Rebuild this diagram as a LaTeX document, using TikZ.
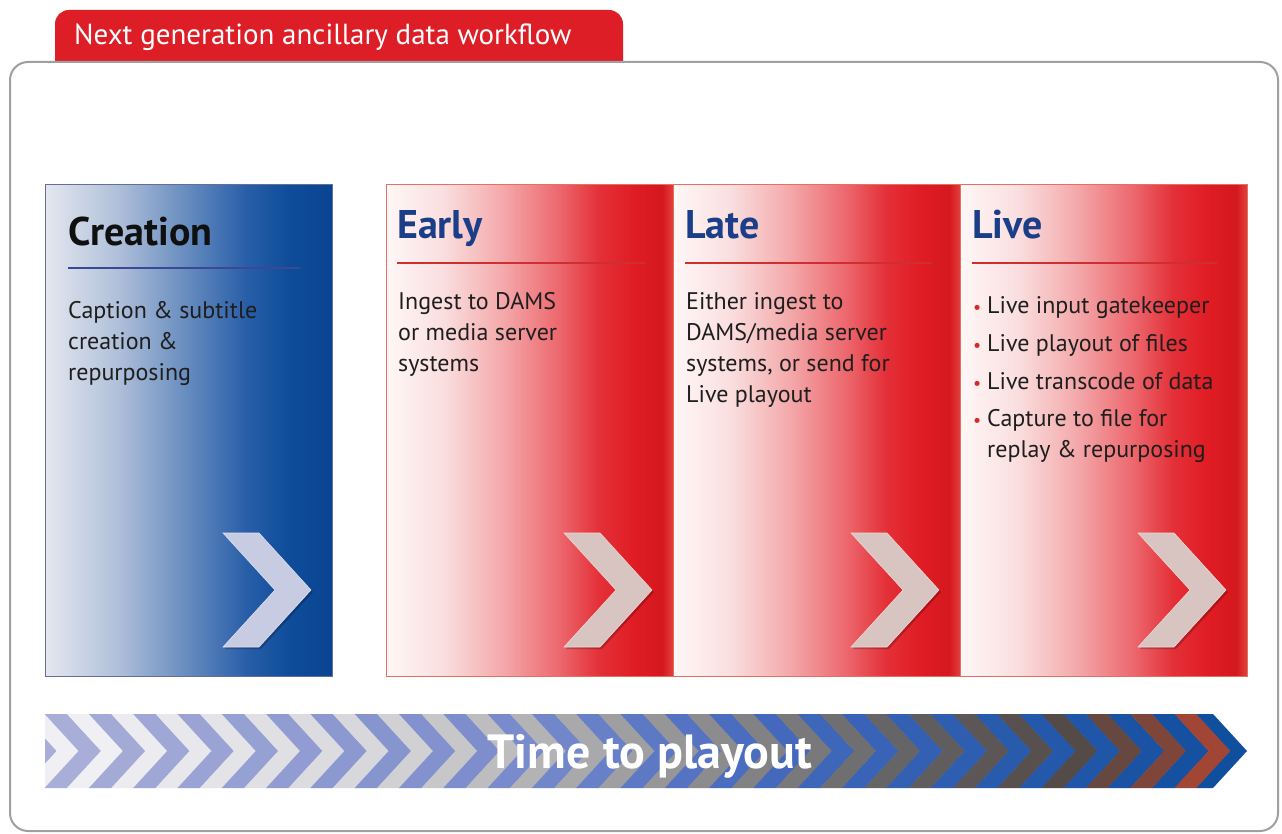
\documentclass[tikz,border=0pt]{standalone}
\usepackage{fontspec}
\setmainfont{PT Sans}

% palette
\definecolor{tabred}{RGB}{222,30,38}
\definecolor{framegray}{RGB}{160,160,160}
\definecolor{titleblue}{RGB}{26,62,136}
\definecolor{titleblack}{RGB}{16,16,16}
\definecolor{bodyblack}{RGB}{30,30,30}
\definecolor{bulletred}{RGB}{214,40,40}
\definecolor{rededge}{RGB}{228,112,98}
\definecolor{blueedge}{RGB}{104,108,152}
\definecolor{rulered}{RGB}{206,48,50}
\definecolor{ruleblue}{RGB}{58,72,150}
\definecolor{chevblue}{RGB}{200,204,226}
\definecolor{chevblueedge}{RGB}{222,224,238}
\definecolor{chevred}{RGB}{216,196,192}
\definecolor{chevrededge}{RGB}{238,216,212}

% red panel gradient stops
\definecolor{rpa}{RGB}{255,247,247}
\definecolor{rpb}{RGB}{250,222,222}
\definecolor{rpc}{RGB}{244,170,172}
\definecolor{rpd}{RGB}{236,104,110}
\definecolor{rpe}{RGB}{228,48,56}
\definecolor{rpf}{RGB}{224,28,36}
\definecolor{rpg}{RGB}{212,24,30}
\definecolor{rph}{RGB}{228,66,60}
% blue panel gradient stops
\definecolor{bpa}{RGB}{228,231,239}
\definecolor{bpb}{RGB}{176,192,218}
\definecolor{bpc}{RGB}{100,138,190}
\definecolor{bpd}{RGB}{40,94,168}
\definecolor{bpe}{RGB}{14,76,154}
\definecolor{bpf}{RGB}{10,68,144}

\pgfdeclarehorizontalshading{redpanel}{100bp}{color(0bp)=(rpa); color(25bp)=(rpa);
  color(35bp)=(rpb); color(45bp)=(rpc); color(55bp)=(rpd); color(62bp)=(rpe);
  color(68bp)=(rpf); color(73bp)=(rpg); color(75bp)=(rph); color(100bp)=(rph)}
\pgfdeclarehorizontalshading{bluepanel}{100bp}{color(0bp)=(bpa); color(25bp)=(bpa);
  color(37.5bp)=(bpb); color(50bp)=(bpc); color(60bp)=(bpd); color(67.5bp)=(bpe);
  color(75bp)=(bpf); color(100bp)=(bpf)}

\begin{document}
\begin{tikzpicture}[x=1pt,y=-1pt,
  declare function={clampseg(\pos,\lo,\hi)=max(0,min(1,(\pos-\lo)/(\hi-\lo)));},
  panelbox/.style={minimum width=287pt, minimum height=492pt, anchor=north west,
    inner sep=0pt, line width=1pt},
  redbox/.style={panelbox, shade, shading=redpanel, draw=rededge},
  bluebox/.style={panelbox, shade, shading=bluepanel, draw=blueedge},
  paneltitle/.style={font=\fontsize{40}{44}\selectfont\bfseries, anchor=base west,
    inner sep=0pt, text=titleblue},
  % multi-line blocks are placed by the baseline of their last line
  paneltext/.style={font=\fontsize{24}{31}\selectfont, align=left, anchor=base west,
    inner sep=0pt, text=bodyblack},
  titlerule/.style={line width=2pt, draw=rulered},
  chevpic/.pic={
    \fill[black, opacity=0.22] (2,2) -- (38,2) -- (90,59) -- (38,116) -- (2,116) -- (54,59) -- cycle;
    \path[pic actions] (0,0) -- (36,0) -- (88,57) -- (36,114) -- (0,114) -- (52,57) -- cycle;
  },
]
\useasboundingbox (0,0) rectangle (1282,834);
\fill[white] (0,0) rectangle (1282,834);

% heading tab and outer frame
\fill[tabred] (55,63) [rounded corners=14pt] -- (55,10) -- (623,10) [sharp corners] -- (623,63) -- cycle;
\node[anchor=base west, inner sep=0pt, text=white, font=\fontsize{29}{32}\selectfont]
  (heading) at (74,45) {Next generation ancillary data workflow};
\draw[framegray, line width=2pt, rounded corners=18pt] (10,62) rectangle (1278,831);

% stage panels
\node[bluebox] (creation) at (45,184) {};
\node[redbox] (early) at (386,184) {};
\node[redbox] (late) at (673,184) {};
\node[redbox] (live) at (960,184) {};

% panel titles and rules
\node[paneltitle, text=titleblack] (creationT) at (68,246) {Creation};
\draw[titlerule, draw=ruleblue] (68,268) -- (300,268);
\node[paneltitle] (earlyT) at (397,239) {Early};
\draw[titlerule] (397,263) -- (645,263);
\node[paneltitle] (lateT) at (685,239) {Late};
\draw[titlerule] (685,263) -- (932,263);
\node[paneltitle] (liveT) at (972,239) {Live};
\draw[titlerule] (972,263) -- (1217,263);

% panel texts
\node[paneltext] (creationX) at (68,380) {Caption \& subtitle\\creation \&\\repurposing};
\node[paneltext] (earlyX) at (398,371) {Ingest to DAMS\\or media server\\systems};
\node[paneltext] (lateX) at (686,402) {Either ingest to\\DAMS/media server\\systems, or send for\\Live playout};
\newcommand{\redbullet}{\makebox[14pt][l]{\textcolor{bulletred}{\scalebox{0.75}{\textbullet}}}}
\node[paneltext] (liveX) at (973,457) {\redbullet Live input gatekeeper\\[7pt]
  \redbullet Live playout of files\\[7pt]
  \redbullet Live transcode of data\\[6pt]
  \redbullet Capture to file for\\
  \makebox[14pt]{}replay \& repurposing};

% chevrons inside panels
\pic[fill=chevblue, draw=chevblueedge, line width=0.6pt] at (223,533) {chevpic};
\pic[fill=chevred, draw=chevrededge, line width=0.6pt] at (564,533) {chevpic};
\pic[fill=chevred, draw=chevrededge, line width=0.6pt] at (851,533) {chevpic};
\pic[fill=chevred, draw=chevrededge, line width=0.6pt] at (1138,533) {chevpic};

% time band: alternating chevron stripes
\begin{scope}
\clip (45,714) -- (1213,714) -- (1247,751) -- (1213,788) -- (45,788) -- cycle;
\foreach \k in {-1,...,26} {
  \pgfmathsetmacro{\xa}{45+\k*44.3}
  \pgfmathsetmacro{\xb}{\xa+22}
  \pgfmathsetmacro{\xc}{\xa+44.3}
  \pgfmathsetmacro{\tk}{max(0,min(1,\k/26))}
  \pgfmathtruncatemacro{\ar}{168-48*clampseg(\tk,0,0.4)-50*clampseg(\tk,0.4,0.6)-54*clampseg(\tk,0.6,1)}
  \pgfmathtruncatemacro{\ag}{174-36*clampseg(\tk,0,0.4)-32*clampseg(\tk,0.4,0.6)-28*clampseg(\tk,0.6,1)}
  \pgfmathtruncatemacro{\ab}{216-12*clampseg(\tk,0,0.4)-14*clampseg(\tk,0.4,0.6)-32*clampseg(\tk,0.6,1)}
  \pgfmathtruncatemacro{\br}{240-26*clampseg(\tk,0,0.25)-64*clampseg(\tk,0.25,0.5)-50*clampseg(\tk,0.5,0.7)-16*clampseg(\tk,0.7,0.85)+46*clampseg(\tk,0.85,0.93)+70*clampseg(\tk,0.93,1)}
  \pgfmathtruncatemacro{\bg}{240-26*clampseg(\tk,0,0.25)-64*clampseg(\tk,0.25,0.5)-52*clampseg(\tk,0.5,0.7)-24*clampseg(\tk,0.7,0.85)-4*clampseg(\tk,0.85,0.93)}
  \pgfmathtruncatemacro{\bb}{244-26*clampseg(\tk,0,0.25)-66*clampseg(\tk,0.25,0.5)-52*clampseg(\tk,0.5,0.7)-28*clampseg(\tk,0.7,0.85)-14*clampseg(\tk,0.85,0.93)-10*clampseg(\tk,0.93,1)}
  \definecolor{stripeA}{RGB}{\ar,\ag,\ab}
  \definecolor{stripeB}{RGB}{\br,\bg,\bb}
  \fill[stripeA] (\xa-0.4,714) -- (\xb+0.4,714) -- (\xb+34.4,751) -- (\xb+0.4,788) -- (\xa-0.4,788) -- (\xa+33.6,751) -- cycle;
  \fill[stripeB] (\xb,714) -- (\xc,714) -- (\xc+34,751) -- (\xc,788) -- (\xb,788) -- (\xb+34,751) -- cycle;
}
\end{scope}
\node[anchor=base, inner sep=0pt, text=white, font=\fontsize{48}{54}\selectfont\bfseries]
  (timeband) at (650,768) {Time to playout};
\end{tikzpicture}
\end{document}
